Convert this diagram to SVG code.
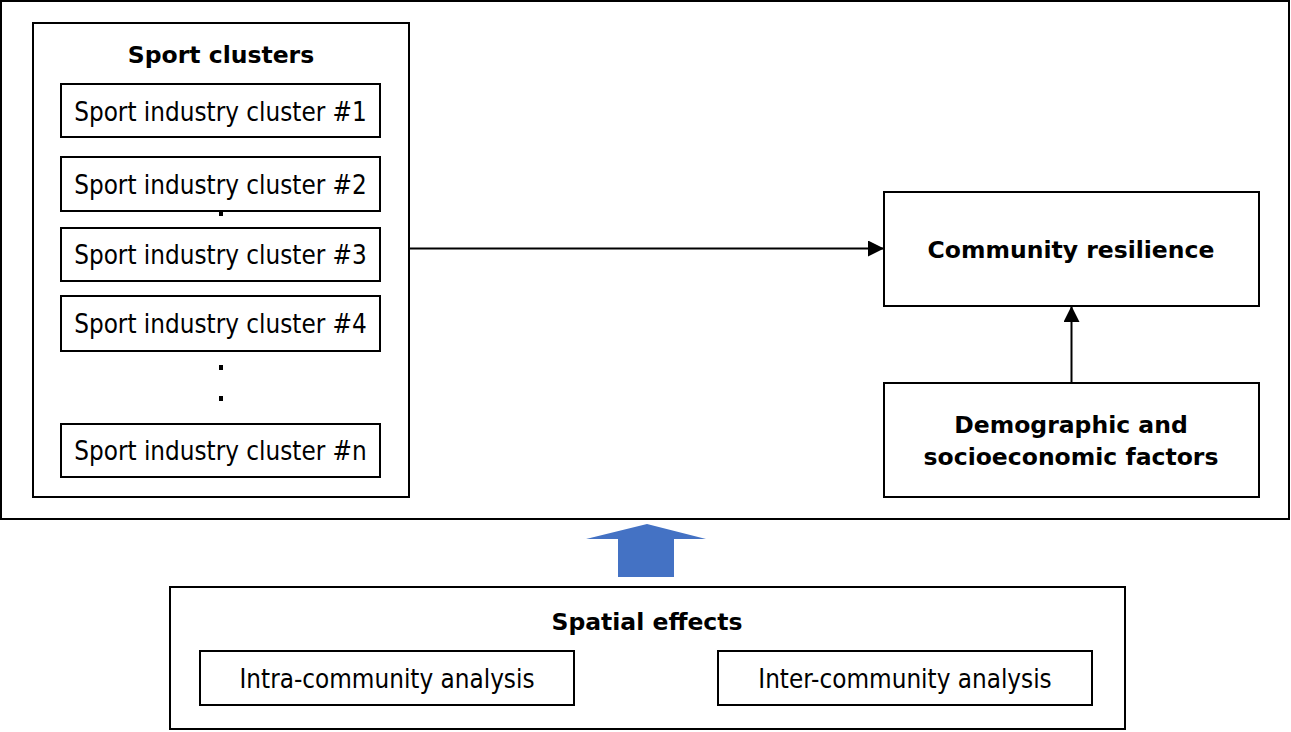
<svg xmlns="http://www.w3.org/2000/svg" width="1291" height="732" viewBox="0 0 1291 732">
<style>
.box{fill:#fff;stroke:#000;stroke-width:2}
.frame{fill:none;stroke:#000;stroke-width:2}
.t{font-family:"DejaVu Sans Condensed","DejaVu Sans",sans-serif;font-stretch:condensed;font-size:25.8px;fill:#000;text-anchor:middle}
.b{font-family:"DejaVu Sans","Verdana",sans-serif;font-weight:bold;font-size:23.5px;fill:#000;text-anchor:middle}
.c{fill:none;stroke:#000;stroke-width:2}
</style>
<defs>
<marker id="ah" viewBox="0 0 16 16" refX="16" refY="8" markerWidth="16" markerHeight="16" markerUnits="userSpaceOnUse" orient="auto">
<path d="M0,0 L16,8 L0,16 Z" fill="#000"/>
</marker>
</defs>
<rect id="outer" class="frame" x="1" y="1" width="1288" height="518"/>
<g id="sport-clusters">
<rect class="box" x="33" y="23" width="376" height="474"/>
<text class="b" x="221" y="63">Sport clusters</text>
</g>
<g id="cluster1"><rect class="box" x="61" y="84" width="319" height="53"/><text class="t" x="220.5" y="121">Sport industry cluster #1</text></g>
<g id="cluster2"><rect class="box" x="61" y="157" width="319" height="54"/><text class="t" x="220.5" y="194">Sport industry cluster #2</text></g>
<rect x="219" y="211" width="4" height="5" fill="#000"/>
<g id="cluster3"><rect class="box" x="61" y="228" width="319" height="53"/><text class="t" x="220.5" y="264">Sport industry cluster #3</text></g>
<g id="cluster4"><rect class="box" x="61" y="296" width="319" height="55"/><text class="t" x="220.5" y="333">Sport industry cluster #4</text></g>
<rect x="219" y="365" width="4" height="5" fill="#000"/>
<rect x="219" y="396" width="4" height="5" fill="#000"/>
<g id="clustern"><rect class="box" x="61" y="424" width="319" height="53"/><text class="t" x="220.5" y="460">Sport industry cluster #n</text></g>
<g id="community-resilience"><rect class="box" x="884" y="192" width="375" height="114"/><text class="b" x="1071" y="258">Community resilience</text></g>
<g id="demographic"><rect class="box" x="884" y="383" width="375" height="114"/><text class="b" x="1071" y="433">Demographic and</text><text class="b" x="1071" y="465">socioeconomic factors</text></g>
<g id="spatial-effects">
<rect class="box" x="170" y="587" width="955" height="142"/>
<text class="b" x="647" y="630">Spatial effects</text>
</g>
<g id="intra"><rect class="box" x="200" y="651" width="374" height="54"/><text class="t" x="387" y="688">Intra-community analysis</text></g>
<g id="inter"><rect class="box" x="718" y="651" width="374" height="54"/><text class="t" x="905" y="688">Inter-community analysis</text></g>
<g id="connectors">
<line class="c" x1="409" y1="248.5" x2="884" y2="248.5" marker-end="url(#ah)"/>
<line class="c" x1="1071.5" y1="383" x2="1071.5" y2="306" marker-end="url(#ah)"/>
<polygon points="647,524 706,539 674,539 674,577 618,577 618,539 586,539" fill="#4472C4"/>
</g>
</svg>
